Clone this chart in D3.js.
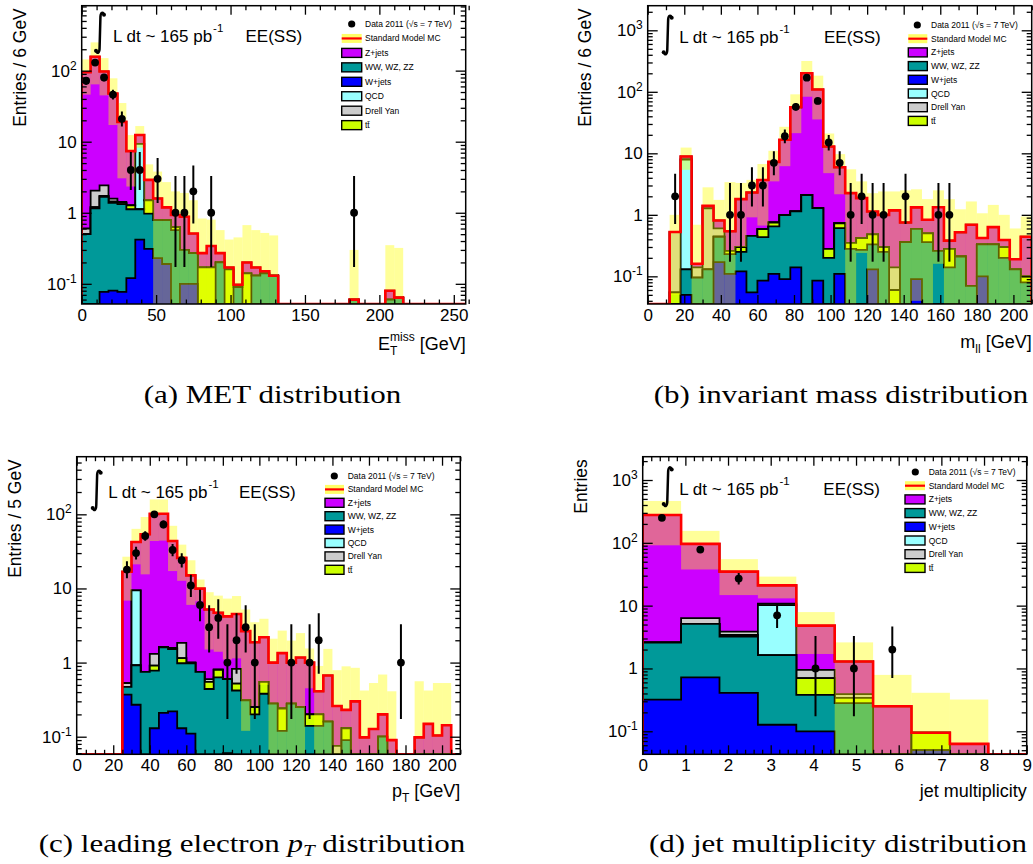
<!DOCTYPE html>
<html>
<head>
<meta charset="utf-8">
<script src="https://cdn.jsdelivr.net/npm/d3@7"></script>
<style>
html,body{margin:0;padding:0;background:#fff;}
svg{display:block;}
</style>
</head>
<body>
<svg id="chart" width="1033" height="864"></svg>
<script>
// ================= DATA =================
const pad = (a, n) => a.concat(new Array(Math.max(0, n - a.length)).fill(0));

const legendLabels = ["Data 2011 (\u221As = 7 TeV)", "Standard Model MC", "Z+jets", "WW, WZ, ZZ", "W+jets", "QCD", "Drell Yan", "tt\u0304"];
const captions = ["(a) MET distribution", "(b) invariant mass distribution", "(c) leading electron |p|T| distribution", "(d) jet multiplicity distribution"];
const yTitles = ["Entries / 6 GeV", "Entries / 6 GeV", "Entries / 5 GeV", "Entries"];
const annotationText = ["L dt ~ 165 pb", "-1", "EE(SS)"];

// (a) MET, 6 GeV bins from 0 to 258
const metZjets   = pad([94.4,155,95,46,17.6,6.1,3.1,1.4,0.8,0.4, 0.3,0.58,0.24,0.1,0.17,0.07,0.01,0.007,0.06,0.04, 0.01,0,0,0,0,0,0,0,0,0, 0,0,0,0,0.02], 43);
const metDiboson = pad([0.5,1.15,1.6,1.3,1.25,1.0,0.7,0.66,0.56,0.6, 0.57,0.2,0.17,0,0,0.2,0,0.09,0,0.13, 0.14,0.13,0,0,0,0,0,0,0,0, 0.06,0,0,0,0.06,0.064], 43);
const metWjets   = pad([0,0,0.077,0.08,0.077,0.12,0.42,0.31,0.23,0.19, 0,0.1,0.1], 43);
const metQCD     = pad([0,0,0,0,0,0,8.2], 43);
const metDrellYan= pad([0.1,0.85,0.7,0.15,0.05], 43);
const metTtbar   = pad([0,0.05,0.05,0.05,0.05,0.15,0,0.53,0,0, 0.06,0,0,0.17,0.17,0,0.16,0,0.14], 43);
const metBandUp  = pad([144,250,150,78,35,12.4,16.6,4.8,3.8,2.7, 2.0,1.9,1.5,0.83,0.8,0.57,0.42,0.45,0.67,0.57, 0.52,0.48,0,0,0,0,0,0,0,0, 0.3,0,0,0,0.35,0.32], 43);
const metData    = pad([72,130,80,46,21,4,4,0,3,0, 1,1,2,0,1,0,0,0,0,0, 0,0,0,0,0,0,0,0,0,0, 1], 43);

// (b) invariant mass, 6 GeV bins from 0 to 210
const massZjets   = [0,0,0,0.97,0.02,0.12,0.21,0.28,1.5,1.85, 3.1,6.5,15.6,55,198,108,12.6,5.2,1.9,1.45, 0.65,0.7,1.04,0.39,0.73,0.33,1.07,0.1,0.31,0.62, 0.09,0.3,0.09,0.06,0.34];
const massDiboson = [0,0,0,0.08,0.095,0.13,0.27,0.12,0.13,0.4, 0.35,0.54,0.9,1.0,2.1,1.2,0.2,0.5,0.28,0.27, 0.2,0.25,0,0.36,0.5,0.36,0.26,0.14,0.21,0.07, 0.23,0.33,0.2,0.13,0.08];
const massWjets   = pad([0,0,0,0.05,0,0,0.17,0.11,0.12,0.055, 0.085,0.11,0.09,0.14,0,0.085,0,0.11,0,0, 0.13,0,0,0,0.09,0,0,0,0,0, 0.1], 35);
const massQCD     = pad([0,0,0,7.8], 35);
const massDrellYan= pad([0,0,0.47,0,0.045,1.15,0.16,0,0,0, 0,0,0,0,0,0,0,0,0,0, 0,0,0.08], 35);
const massTtbar   = [0,0,0.055,0,0,0,0,0.03,0.05,0, 0.15,0.1,0,0,0,0,0.08,0.12,0.07,0.15, 0.15,0.05,0.06,0,0,0.14,0,0.14,0,0, 0,0,0.1,0,0.02];
const massBandUp  = [0,0,1.0,12.4,0.69,2.8,1.75,3.4,3.3,3.7, 6.7,11,27,91,317,183,21,9.7,5.5,3.5, 2.25,2.4,2.4,2.5,2.6,1.8,2.5,1.8,1.23,1.65, 1.06,1.45,1.0,0.6,0.94];
const massData    = pad([0,0,2,0,0,0,0,1,1,3, 3,7,19,57,170,71,15,7,1,2, 1,1,0,2,0,0,1,1], 35);

// (c) leading electron pT, 5 GeV bins from 0 to 210
const ptZjets   = [0,0,0,0,0,16.3,33,53,100,100, 42,24,14,9.2,4.6,3.9,3.6,3.7,2.35,1.63, 1.65,0.72,1.1,0.72,0.92,0.8,0.21,0.51,0.185,0.1, 0.3,0.098,0.127,0.1,0.09,0,0,0.098,0.149,0.104, 0.143,0];
const ptDiboson = pad([0,0,0,0,0,0.1,0.65,0.75,0.65,1.4, 1.3,0.85,0.87,0.75,0.44,0.63,0.54,0.42,0.31,0.2, 0.38,0.28,0.12,0.28,0.25,0.14,0.14,0.16,0,0.09, 0,0,0,0.1], 42);
const ptWjets   = pad([0,0,0,0,0,0.37,0.27,0,0.13,0.21, 0.22,0.13,0.11,0,0,0,0.06], 42);
const ptQCD     = pad([0,0,0,0,0,0,8.5], 42);
const ptDrellYan= pad([0,0,0,0,0,0.06,0,0,0.4,0, 0.03,0.7,0,0,0.05,0,0,0.3,0,0, 0,0,0,0,0,0,0,0,0.075], 42);
const ptTtbar   = pad([0,0,0,0,0,0,0,0,0.13,0, 0.03,0.17,0.02,0,0.11,0.17,0,0.1,0,0.05, 0.17,0,0.12,0,0,0.06,0.06,0,0,0.04], 42);
const ptBandUp  = [0,0,0,0,0,26.8,63.7,92,159,159, 70,39,24,13.2,8.9,8,7.3,7.9,5.2,3.5, 3.9,2.1,2.7,1.98,2.5,1.55,0.9,1.53,0.79,0.89, 0.85,0.42,0.53,0.69,0.41,0,0,0.56,0.42,0.53, 0.53,0];
const ptData    = pad([0,0,0,0,0,18,30,51,100,73, 33,24,11,6,3,4,1,2,3,1, 0,0,0,1,0,1,2,0,0,0, 0,0,0,0,0,1], 42);

// (d) jet multiplicity, 10 bins of width 0.9 from 0 to 9
const jetZjets   = [275,90,31,10.3,3.85,0.9,0.25,0,0.023,0];
const jetDiboson = [2.25,4.4,2.8,1.5,0.28,0.28,0,0,0,0];
const jetWjets   = [0.32,0.72,0.41,0.127,0.1,0,0,0.05,0.04,0];
const jetQCD     = [0,0,0,8.6,0,0,0,0,0,0];
const jetDrellYan= [0.05,1.2,0.45,0.5,0.25,0.05,0,0,0,0];
const jetTtbar   = [0,0,0.2,0,0.32,0.06,0,0.045,0,0];
const jetBandUp  = [464,155,55,29,7.9,2.6,0.79,0.41,0.32,0];
const jetData    = [250,78,27,7,1,1,2,0,0,0];

// Poisson (Garwood 68%) intervals for small counts
const garwood = [[0,1.84],[0.173,3.30],[0.708,4.64],[1.37,5.92],[2.09,7.16],[2.84,8.38],[3.62,9.58],[4.42,10.77],[5.23,11.95],[6.06,13.11],[6.89,14.27]];

// ================= STYLE / LAYOUT =================
const COL = {W:'#0000ff', VV:'#009999', TT:'#ccff00', QCD:'#99ffff', DY:'#cccccc', Z:'#cc00ff'};
const BAND_FILL = '#ffff00', BAND_OPACITY = 0.4;
const SANS = "'Liberation Sans', Arial, Helvetica, sans-serif";
const SERIF = "'Liberation Serif', 'Times New Roman', serif";

const panels = [
  { frame:{left:81.7, top:5.7, width:384, height:298.3}, xDomain:[0,258], binWidth:6, yDomain:[0.052,820],
    xMajor:50, xMinor:10,
    series:{W:metWjets, VV:metDiboson, TT:metTtbar, QCD:metQCD, DY:metDrellYan, Z:metZjets}, band:metBandUp, data:metData,
    yTitle:yTitles[0], yTitleX:26, xTitle:[{t:'E'},{t:'T',s:12,dy:5},{t:'miss',s:12,dx:-7.3,dy:-14},{t:' [GeV]',dy:9}], xTitleY:350,
    ann:{ix:100, itop:12, ih:41.5, tx:113, ty:42, eex:245.5},
    leg:{ix:341.7, iw:20, cx:351.7, tx:365, y0:24, dy:14.45},
    cap:{cx:272.5, y:403, idx:0} },
  { frame:{left:647.7, top:5.7, width:384, height:298.3}, xDomain:[0,210], binWidth:6, yDomain:[0.0355,2512],
    xMajor:20, xMinor:10,
    series:{W:massWjets, VV:massDiboson, TT:massTtbar, QCD:massQCD, DY:massDrellYan, Z:massZjets}, band:massBandUp, data:massData,
    yTitle:yTitles[1], yTitleX:591, xTitle:[{t:'m'},{t:'ll',s:12,dy:5},{t:' [GeV]',dy:-5}], xTitleY:348.3,
    ann:{ix:667.7, itop:15, ih:40, tx:679.3, ty:43.3, eex:824},
    leg:{ix:908.3, iw:19, cx:917.3, tx:931, y0:25, dy:13.7},
    cap:{cx:841, y:403, idx:1} },
  { frame:{left:76.7, top:456.7, width:383.6, height:297.6}, xDomain:[0,210], binWidth:5, yDomain:[0.0579,599],
    xMajor:20, xMinor:5,
    series:{W:ptWjets, VV:ptDiboson, TT:ptTtbar, QCD:ptQCD, DY:ptDrellYan, Z:ptZjets}, band:ptBandUp, data:ptData,
    yTitle:yTitles[2], yTitleX:21, xTitle:[{t:'p'},{t:'T',s:12,dy:5},{t:' [GeV]',dy:-5}], xTitleY:797.3,
    ann:{ix:96.7, itop:470, ih:40.7, tx:108.3, ty:498.3, eex:239},
    leg:{ix:325, iw:19, cx:334.3, tx:347.7, y0:476, dy:13.4},
    cap:{cx:252, y:852, idx:2} },
  { frame:{left:642.7, top:456.7, width:384, height:297.6}, xDomain:[0,9], binWidth:0.9, yDomain:[0.043,2350],
    xMajor:1, xMinor:0.2,
    series:{W:jetWjets, VV:jetDiboson, TT:jetTtbar, QCD:jetQCD, DY:jetDrellYan, Z:jetZjets}, band:jetBandUp, data:jetData,
    yTitle:yTitles[3], yTitleX:587, xTitle:[{t:'jet multiplicity'}], xTitleY:797,
    ann:{ix:667.7, itop:466.7, ih:40, tx:679.3, ty:495, eex:823.3},
    leg:{ix:905, iw:20, cx:915.3, tx:928.7, y0:472, dy:13.7},
    cap:{cx:838, y:852, idx:3} }
];
const stackOrder = ['W','VV','TT','QCD','DY','Z'];
const legendComps = ['Z','VV','W','QCD','DY','TT'];

// ================= DRAW =================
const svg = d3.select('#chart');
const defs = svg.append('defs');

function drawPanel(cfg, pi) {
  const {left, top, width, height} = cfg.frame;
  const bottom = top + height, right = left + width;
  const x = d3.scaleLinear().domain(cfg.xDomain).range([left, right]);
  const y = d3.scaleLog().domain(cfg.yDomain).range([bottom, top]).clamp(true);
  const tiny = cfg.yDomain[0] * 0.01;
  const yc = v => y(Math.max(v, tiny));

  const n = cfg.data.length;
  const edges = d3.range(n + 1).map(i => cfg.xDomain[0] + i * cfg.binWidth);

  const clipId = 'clip' + pi;
  defs.append('clipPath').attr('id', clipId).append('rect')
    .attr('x', left).attr('y', top).attr('width', width).attr('height', height);
  const plot = svg.append('g').attr('clip-path', `url(#${clipId})`);

  // cumulative stack
  let cum = new Array(n).fill(0);
  const layers = stackOrder.map(k => {
    cum = cum.map((s, i) => s + cfg.series[k][i]);
    return {key:k, values:cum.slice()};
  });
  const stepPts = vals => {
    const p = [];
    vals.forEach((v, i) => { p.push([edges[i], v]); p.push([edges[i + 1], v]); });
    return p;
  };
  const area = d3.area().x(d => x(d[0])).y0(bottom).y1(d => yc(d[1]));
  const line = d3.line().x(d => x(d[0])).y(d => yc(d[1]));

  layers.slice().reverse().forEach(L => {
    const pts = stepPts(L.values);
    plot.append('path').attr('d', area(pts)).attr('fill', COL[L.key]).attr('stroke', 'none');
    const lp = [[edges[0], 0]].concat(pts, [[edges[n], 0]]);
    plot.append('path').attr('d', line(lp)).attr('fill', 'none')
      .attr('stroke', '#000').attr('stroke-width', 1.8).attr('stroke-linejoin', 'miter');
  });

  // uncertainty band
  const total = layers[layers.length - 1].values;
  cfg.band.forEach((u, i) => {
    if (u > 0 && total[i] > 0) {
      const lo = Math.max(2 * total[i] - u, tiny);
      plot.append('rect').attr('x', x(edges[i])).attr('width', x(edges[i + 1]) - x(edges[i]))
        .attr('y', yc(u)).attr('height', yc(lo) - yc(u))
        .attr('fill', BAND_FILL).attr('fill-opacity', BAND_OPACITY);
    }
  });

  // total SM line
  const tp = [[edges[0], 0]].concat(stepPts(total), [[edges[n], 0]]);
  plot.append('path').attr('d', line(tp)).attr('fill', 'none')
    .attr('stroke', '#ff0000').attr('stroke-width', 2.6);

  // data
  cfg.data.forEach((c, i) => {
    if (c <= 0) return;
    const xc = x((edges[i] + edges[i + 1]) / 2);
    const r = c < garwood.length ? garwood[c] : [c - Math.sqrt(c), c + Math.sqrt(c) + 1];
    plot.append('line').attr('x1', xc).attr('x2', xc).attr('y1', yc(r[0])).attr('y2', yc(r[1]))
      .attr('stroke', '#000').attr('stroke-width', 2);
    plot.append('circle').attr('cx', xc).attr('cy', yc(c)).attr('r', 3.9).attr('fill', '#000');
  });

  // ----- axes -----
  const eps = 1e-6;
  const nMaj = Math.round((cfg.xDomain[1] - cfg.xDomain[0]) / cfg.xMajor);
  const xMaj = d3.range(0, nMaj + 1).map(k => cfg.xDomain[0] + k * cfg.xMajor).filter(v => v <= cfg.xDomain[1] + eps);
  const nMin = Math.round((cfg.xDomain[1] - cfg.xDomain[0]) / cfg.xMinor);
  const xMin = d3.range(0, nMin + 1).map(k => +(cfg.xDomain[0] + k * cfg.xMinor).toFixed(4))
    .filter(v => !xMaj.some(m => Math.abs(m - v) < eps));
  const e0 = Math.floor(Math.log10(cfg.yDomain[0])), e1 = Math.ceil(Math.log10(cfg.yDomain[1]));
  const yMaj = [], yMin = [];
  for (let e = e0; e <= e1; e++) {
    const d = Math.pow(10, e);
    if (d >= cfg.yDomain[0] && d <= cfg.yDomain[1]) yMaj.push(d);
    for (let m = 2; m <= 9; m++) { const v = m * d; if (v >= cfg.yDomain[0] && v <= cfg.yDomain[1]) yMin.push(v); }
  }
  const styleAxis = g => { g.select('.domain').remove(); g.selectAll('line').attr('stroke-width', 1.3); };

  const gB = svg.append('g').attr('transform', `translate(0,${bottom})`)
    .call(d3.axisBottom(x).tickValues(xMaj).tickSizeInner(-9).tickSizeOuter(0).tickPadding(5).tickFormat(d3.format('d')))
    .attr('font-family', SANS).attr('font-size', 17);
  styleAxis(gB);
  svg.append('g').attr('transform', `translate(0,${bottom})`)
    .call(d3.axisBottom(x).tickValues(xMin).tickSizeInner(-4.5).tickSizeOuter(0).tickFormat(() => '')).call(styleAxis);
  svg.append('g').attr('transform', `translate(0,${top})`)
    .call(d3.axisTop(x).tickValues(xMaj).tickSizeInner(-9).tickSizeOuter(0).tickFormat(() => '')).call(styleAxis);
  svg.append('g').attr('transform', `translate(0,${top})`)
    .call(d3.axisTop(x).tickValues(xMin).tickSizeInner(-4.5).tickSizeOuter(0).tickFormat(() => '')).call(styleAxis);

  const gL = svg.append('g').attr('transform', `translate(${left},0)`)
    .call(d3.axisLeft(y).tickValues(yMaj).tickSizeInner(-10).tickSizeOuter(0).tickPadding(5).tickFormat(() => ''))
    .attr('font-family', SANS).attr('font-size', 17);
  styleAxis(gL);
  gL.selectAll('.tick text').each(function(d) {
    const e = Math.round(Math.log10(d));
    const t = d3.select(this);
    if (e === 0) t.text('1');
    else if (e === 1) t.text('10');
    else {
      t.append('tspan').text('10');
      t.append('tspan').attr('dy', -7).attr('font-size', 12).text(String(e));
    }
  });
  svg.append('g').attr('transform', `translate(${left},0)`)
    .call(d3.axisLeft(y).tickValues(yMin).tickSizeInner(-5).tickSizeOuter(0).tickFormat(() => '')).call(styleAxis);
  svg.append('g').attr('transform', `translate(${right},0)`)
    .call(d3.axisRight(y).tickValues(yMaj).tickSizeInner(-10).tickSizeOuter(0).tickFormat(() => '')).call(styleAxis);
  svg.append('g').attr('transform', `translate(${right},0)`)
    .call(d3.axisRight(y).tickValues(yMin).tickSizeInner(-5).tickSizeOuter(0).tickFormat(() => '')).call(styleAxis);

  // frame
  svg.append('rect').attr('x', left).attr('y', top).attr('width', width).attr('height', height)
    .attr('fill', 'none').attr('stroke', '#000').attr('stroke-width', 1.5);

  // axis titles
  svg.append('text').attr('transform', `translate(${cfg.yTitleX},${top + 2.5}) rotate(-90)`)
    .attr('text-anchor', 'end').attr('font-family', SANS).attr('font-size', 17.5).text(cfg.yTitle);
  const xt = svg.append('text').attr('x', right).attr('y', cfg.xTitleY).attr('text-anchor', 'end')
    .attr('font-family', SANS).attr('font-size', 18);
  cfg.xTitle.forEach(s => {
    const ts = xt.append('tspan').text(s.t);
    if (s.s) ts.attr('font-size', s.s);
    if (s.dx) ts.attr('dx', s.dx);
    if (s.dy) ts.attr('dy', s.dy);
  });

  // annotation: integral + luminosity + channel
  const a = cfg.ann;
  const h = a.ih;
  svg.append('path')
    .attr('d', `M${a.ix + 4},${a.itop + 2.5} C${a.ix + 2.5},${a.itop - 0.8} ${a.ix + 0.4},${a.itop + 0.5} ${a.ix + 0.4},${a.itop + 6}`
             + ` L${a.ix - 0.4},${a.itop + h - 6} C${a.ix - 0.4},${a.itop + h - 0.5} ${a.ix - 2.5},${a.itop + h + 0.8} ${a.ix - 4},${a.itop + h - 2.5}`)
    .attr('fill', 'none').attr('stroke', '#000').attr('stroke-width', 2.5).attr('stroke-linecap', 'round');
  svg.append('circle').attr('cx', a.ix + 4).attr('cy', a.itop + 2.8).attr('r', 2).attr('fill', '#000');
  svg.append('circle').attr('cx', a.ix - 4).attr('cy', a.itop + h - 2.8).attr('r', 2).attr('fill', '#000');
  const lt = svg.append('text').attr('x', a.tx).attr('y', a.ty).attr('font-family', SANS).attr('font-size', 17);
  lt.append('tspan').text(annotationText[0]);
  lt.append('tspan').attr('dy', -10).attr('dx', 1).attr('font-size', 11.5).text(annotationText[1]);
  svg.append('text').attr('x', a.eex).attr('y', a.ty).attr('font-family', SANS).attr('font-size', 17).text(annotationText[2]);

  // legend
  const lg = cfg.leg;
  const ih = 9;
  legendLabels.forEach((lab, i) => {
    const yy = lg.y0 + i * lg.dy;
    if (i === 0) {
      svg.append('circle').attr('cx', lg.cx).attr('cy', yy).attr('r', 3.6).attr('fill', '#000');
    } else if (i === 1) {
      svg.append('rect').attr('x', lg.ix).attr('y', yy - ih / 2).attr('width', lg.iw).attr('height', ih)
        .attr('fill', BAND_FILL).attr('fill-opacity', BAND_OPACITY + 0.2);
      svg.append('line').attr('x1', lg.ix).attr('x2', lg.ix + lg.iw).attr('y1', yy).attr('y2', yy)
        .attr('stroke', '#ff0000').attr('stroke-width', 2.2);
    } else {
      svg.append('rect').attr('x', lg.ix).attr('y', yy - ih / 2).attr('width', lg.iw).attr('height', ih)
        .attr('fill', COL[legendComps[i - 2]]).attr('stroke', '#000').attr('stroke-width', 1.4);
    }
    svg.append('text').attr('x', lg.tx).attr('y', yy + 3).attr('font-family', SANS).attr('font-size', 8.5).text(lab);
  });

  // caption
  const parts = captions[cfg.cap.idx].split('|');
  const ct = svg.append('text').attr('transform', `translate(${cfg.cap.cx},${cfg.cap.y}) scale(1.24,1)`)
    .attr('text-anchor', 'middle').attr('font-family', SERIF).attr('font-size', 25);
  if (parts.length === 1) ct.text(parts[0]);
  else {
    ct.append('tspan').text(parts[0]);
    ct.append('tspan').attr('font-style', 'italic').text(parts[1]);
    ct.append('tspan').attr('font-style', 'italic').attr('font-size', 17).attr('dy', 4).text(parts[2]);
    ct.append('tspan').attr('dy', -4).text(parts[3]);
  }
}

panels.forEach(drawPanel);
</script>
</body>
</html>
